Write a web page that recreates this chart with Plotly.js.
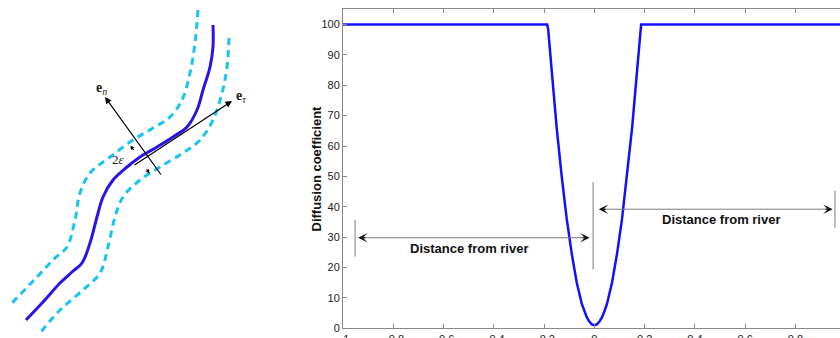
<!DOCTYPE html>
<html>
<head>
<meta charset="utf-8">
<script src="https://cdn.plot.ly/plotly-3.0.1.min.js"></script>
<style>html,body{margin:0;padding:0;background:#fff;}#chart{width:840px;height:338px;}</style>
</head>
<body>
<div id="chart"></div>
<script>
// ---- Right panel: diffusion coefficient vs distance from river ----
var distX = [-1, -0.188, -0.184, -0.17, -0.15, -0.13, -0.11, -0.09, -0.07, -0.05, -0.04, -0.03, -0.02, -0.01, 0,
             0.01, 0.02, 0.03, 0.04, 0.05, 0.07, 0.09, 0.11, 0.13, 0.15, 0.17, 0.182, 0.186, 1];
var diffY = [100, 100, 98.5, 85, 66, 50, 36, 24.5, 15, 8, 5.6, 3.6, 2.2, 1.3, 1,
             1.3, 2.2, 3.6, 5.6, 8, 15, 24.5, 36, 50, 66, 85, 98.5, 100, 100];
var xTickVals = [-1, -0.8, -0.6, -0.4, -0.2, 0, 0.2, 0.4, 0.6, 0.8];
var xTickText = ['\u22121', '\u22120.8', '\u22120.6', '\u22120.4', '\u22120.2', '0', '0.2', '0.4', '0.6', '0.8'];
var yTickVals = [0, 10, 20, 30, 40, 50, 60, 70, 80, 90, 100];
var yTitle = 'Diffusion coefficient';
var armLabel = 'Distance from river';
// distance arrows: [xStart, xEnd, y]
var arrowLeft = [-0.94, -0.019, 29.8];
var arrowRight = [0.017, 0.948, 39.2];
// vertical marker lines: [x, y0, y1]
var markers = [[-0.952, 23.6, 35.7], [-0.005, 19.4, 48.1], [0.957, 33.1, 45.3]];
// label positions: [x, y]
var labelLeft = [-0.497, 26.4];
var labelRight = [0.507, 35.7];

// ---- Left panel: sketch of river and its band (pixel-like coords) ----
var riverX = [213, 213, 210, 203, 197, 187, 173, 157, 140, 127, 113, 103, 97, 90, 82, 72, 60, 43, 26];
var riverY = [25, 47, 67, 90, 110, 127, 137, 147, 157, 167, 180, 197, 217, 243, 263, 272, 283, 302, 320];
var bandUpX = [198, 195, 190, 182, 170, 153, 133, 110, 90, 80, 75, 67, 55, 37, 10];
var bandUpY = [10, 43, 73, 100, 117, 128, 140, 157, 173, 193, 220, 247, 258, 277, 305];
var bandLoX = [229, 227, 222, 213, 200, 183, 160, 140, 123, 115, 108, 100, 83, 60, 40];
var bandLoY = [38, 67, 93, 120, 140, 153, 167, 180, 197, 217, 247, 273, 290, 310, 333];
// vectors: [tailX, tailY, headX, headY]
var vecN = [162, 176, 105, 97];
var vecT = [133, 166, 232, 101];
var epsUp = [134.5, 151.5, 130.5, 145.5];
var epsDown = [145.5, 167.5, 149.5, 173.5];
var lblN = [101, 88], lblT = [241, 96], lblEps = [118, 159];

var traces = [
  {x: distX, y: diffY, type: 'scatter', mode: 'lines', xaxis: 'x', yaxis: 'y',
   line: {color: '#1010ff', width: 2.5}, hoverinfo: 'skip'},
  {x: bandUpX, y: bandUpY, type: 'scatter', mode: 'lines', xaxis: 'x2', yaxis: 'y2',
   line: {color: '#19c4f3', width: 3, dash: '7px,5px', shape: 'spline'}, hoverinfo: 'skip'},
  {x: bandLoX, y: bandLoY, type: 'scatter', mode: 'lines', xaxis: 'x2', yaxis: 'y2',
   line: {color: '#19c4f3', width: 3, dash: '7px,5px', shape: 'spline'}, hoverinfo: 'skip'},
  {x: riverX, y: riverY, type: 'scatter', mode: 'lines', xaxis: 'x2', yaxis: 'y2',
   line: {color: '#2b12e6', width: 3, shape: 'spline'}, hoverinfo: 'skip'}
];

var shapes = [];
markers.forEach(function (m) {
  shapes.push({type: 'line', xref: 'x', yref: 'y', x0: m[0], x1: m[0], y0: m[1], y1: m[2],
               line: {color: '#7a7a7a', width: 1}});
});
[arrowLeft, arrowRight].forEach(function (a) {
  shapes.push({type: 'line', xref: 'x', yref: 'y', x0: a[0] + 0.02, x1: a[1] - 0.02, y0: a[2], y1: a[2],
               line: {color: '#7a7a7a', width: 1}});
});

var ann = [];
function head(xh, yh, xt, yt) {
  ann.push({xref: 'x', yref: 'y', axref: 'x', ayref: 'y', x: xh, y: yh, ax: xt, ay: yt,
            text: '', showarrow: true, arrowhead: 3, arrowsize: 1.6, arrowwidth: 1, arrowcolor: '#111'});
}
head(arrowLeft[0], arrowLeft[2], arrowLeft[0] + 0.035, arrowLeft[2]);
head(arrowLeft[1], arrowLeft[2], arrowLeft[1] - 0.035, arrowLeft[2]);
head(arrowRight[0], arrowRight[2], arrowRight[0] + 0.035, arrowRight[2]);
head(arrowRight[1], arrowRight[2], arrowRight[1] - 0.035, arrowRight[2]);
[labelLeft, labelRight].forEach(function (p) {
  ann.push({xref: 'x', yref: 'y', x: p[0], y: p[1], text: '<b>' + armLabel + '</b>', showarrow: false,
            font: {family: 'Liberation Sans, Arial, sans-serif', size: 13, color: '#111'}});
});
ann.push({xref: 'paper', yref: 'paper', x: 316.7 / 840, y: (338 - 168.8) / 338, text: '<b>' + yTitle + '</b>',
          textangle: -90, showarrow: false,
          font: {family: 'Liberation Sans, Arial, sans-serif', size: 13, color: '#111'}});

function vec(v, hd, sz, w) {
  ann.push({xref: 'x2', yref: 'y2', axref: 'x2', ayref: 'y2', x: v[2], y: v[3], ax: v[0], ay: v[1],
            text: '', showarrow: true, arrowhead: hd, arrowsize: sz, arrowwidth: w, arrowcolor: '#000'});
}
vec(vecN, 2, 1.1, 1.2);
vec(vecT, 2, 1.1, 1.2);
vec(epsUp, 2, 0.8, 1);
vec(epsDown, 2, 0.8, 1);
var serif = {family: 'Liberation Serif, DejaVu Serif, serif', size: 14, color: '#222'};
ann.push({xref: 'x2', yref: 'y2', x: lblN[0], y: lblN[1], showarrow: false, font: serif,
          text: '<b>e</b><sub><i>n</i></sub>'});
ann.push({xref: 'x2', yref: 'y2', x: lblT[0], y: lblT[1], showarrow: false, font: serif,
          text: '<b>e</b><sub><i>\u03c4</i></sub>'});
ann.push({xref: 'x2', yref: 'y2', x: lblEps[0], y: lblEps[1], showarrow: false,
          font: {family: 'Liberation Serif, DejaVu Serif, serif', size: 13, color: '#222'},
          text: '2<i>\u03b5</i>'});

var tickFont = {family: 'Liberation Sans, Arial, sans-serif', size: 11, color: '#222'};
var layout = {
  width: 840, height: 338,
  margin: {l: 0, r: 0, t: 0, b: 0},
  paper_bgcolor: '#fff', plot_bgcolor: '#fff',
  showlegend: false,
  xaxis: {domain: [343 / 840, 1], range: [-1, 0.977], tickvals: xTickVals, ticktext: xTickText,
          ticks: 'inside', ticklen: 4, tickcolor: '#888', showline: true, linecolor: '#888', linewidth: 1,
          mirror: 'ticks', showgrid: false, zeroline: false, tickfont: tickFont, fixedrange: true},
  yaxis: {domain: [(338 - 328.3) / 338, (338 - 9.3) / 338], range: [0, 105], tickvals: yTickVals,
          ticks: 'inside', ticklen: 4, tickcolor: '#888', showline: true, linecolor: '#888', linewidth: 1,
          mirror: false, showgrid: false, zeroline: false, tickfont: tickFont, fixedrange: true},
  xaxis2: {domain: [0, 280 / 840], range: [0, 280], visible: false, fixedrange: true},
  yaxis2: {domain: [0, 1], range: [338, 0], visible: false, fixedrange: true, anchor: 'x2'},
  shapes: shapes,
  annotations: ann
};
Plotly.newPlot('chart', traces, layout, {staticPlot: true, displayModeBar: false});
</script>
</body>
</html>
